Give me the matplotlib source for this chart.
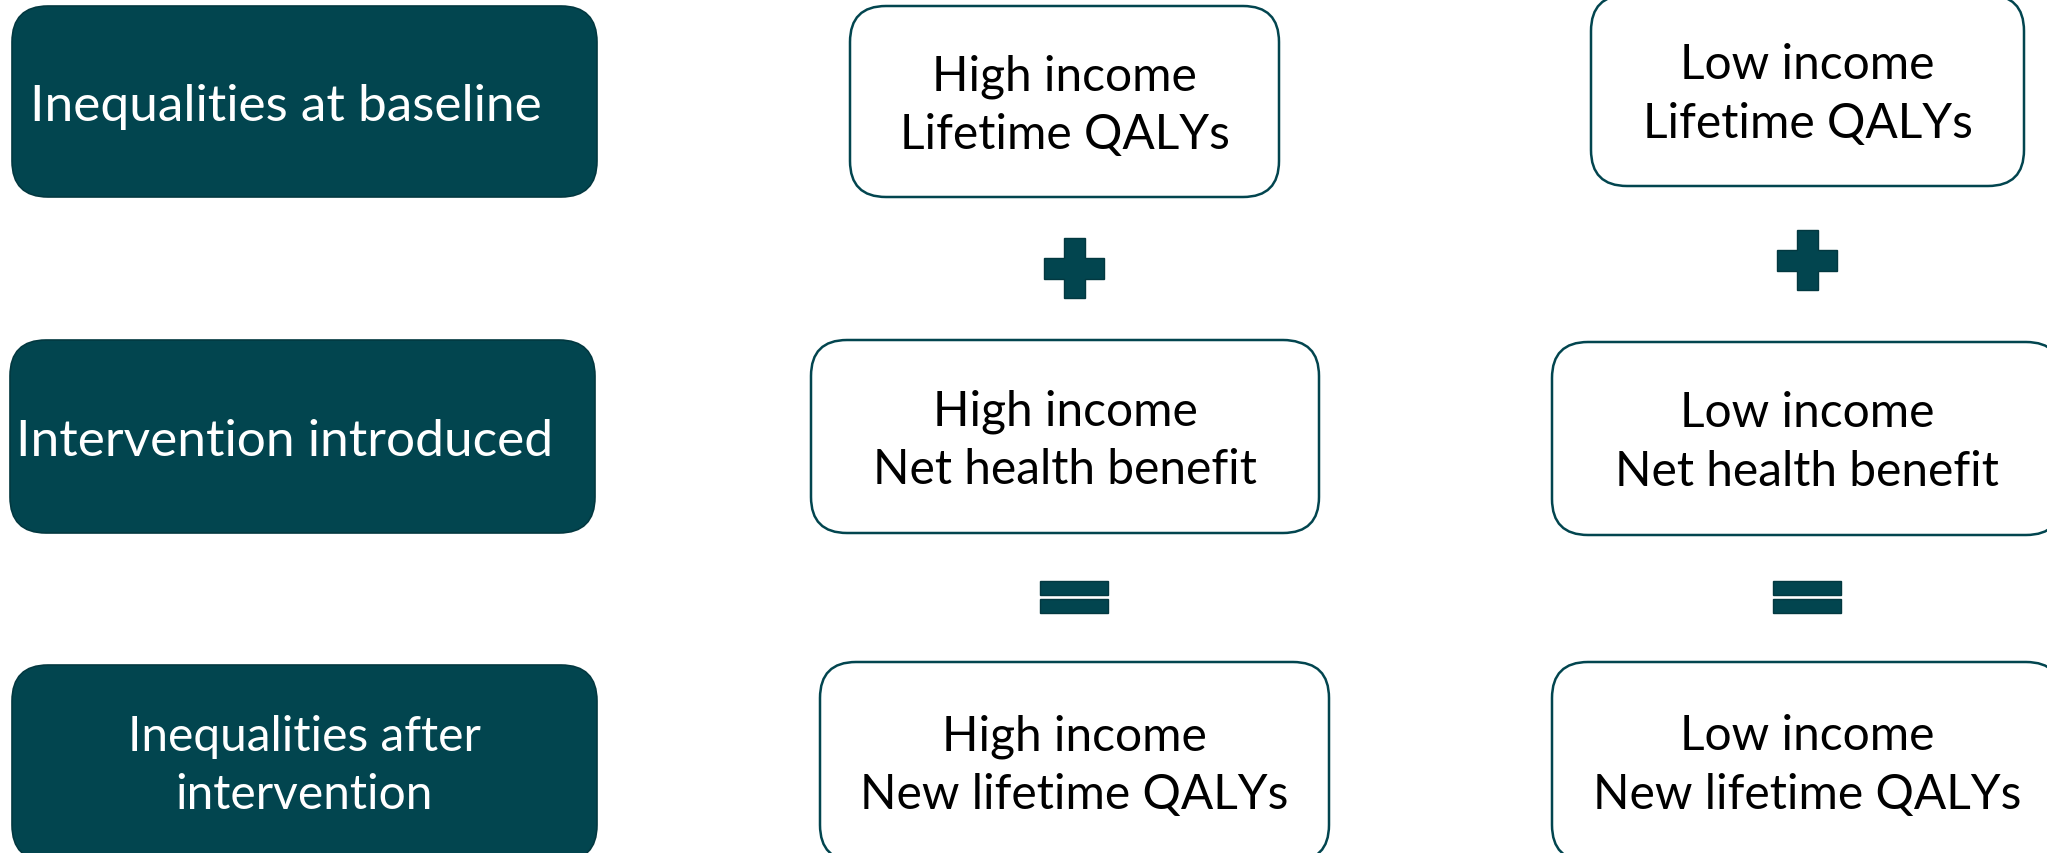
import matplotlib.pyplot as plt
from matplotlib.patches import FancyBboxPatch, Polygon, Rectangle

# labels
stage_labels = ['Inequalities at baseline', 'Intervention introduced',
                'Inequalities after\nintervention']
groups = ['High income', 'Low income']
row_terms = ['Lifetime QALYs', 'Net health benefit', 'New lifetime QALYs']
operators = ['+', '=']

teal = '#02454f'
edge_dark = '#023840'

W, H = 2047, 854
fig = plt.figure(figsize=(W / 100, H / 100), dpi=100)
ax = fig.add_axes([0, 0, 1, 1])
ax.set_xlim(0, W)
ax.set_ylim(H, 0)
ax.axis('off')

font = ['Lato', 'DejaVu Sans']
fs = 34.5
ls = 1.4

# box layout in pixels: (x0, x1, y0, y1)
stage_boxes = [(12, 597, 7, 198), (10, 595, 341, 534), (12, 597, 666, 862)]
stage_text_x = [286, 285, 304]
stage_text_dy = [5, 5, 2]
stage_fs = [37, 37, 34.5]
group_boxes = [
    [(850, 1279, 7, 198), (811, 1319, 341, 534), (820, 1329, 663, 862)],
    [(1591, 2024, -4, 187), (1552, 2062, 343, 536), (1552, 2062, 663, 862)],
]
op_centers = [
    [(1074, 269), (1074, 598)],
    [(1807, 261), (1807, 598)],
]


def rbox(x0, x1, y0, y1, fc, ec, lw):
    p = FancyBboxPatch((x0, y0), x1 - x0, y1 - y0,
                       boxstyle='round,pad=0,rounding_size=36',
                       fc=fc, ec=ec, lw=lw)
    ax.add_patch(p)


for i, lab in enumerate(stage_labels):
    x0, x1, y0, y1 = stage_boxes[i]
    rbox(x0, x1, y0, y1, teal, edge_dark, 1.2)
    ax.text(stage_text_x[i], (y0 + y1) / 2 + stage_text_dy[i], lab,
            color='white', fontsize=stage_fs[i], family=font,
            ha='center', va='center', linespacing=ls)

for g, grp in enumerate(groups):
    for r, term in enumerate(row_terms):
        x0, x1, y0, y1 = group_boxes[g][r]
        rbox(x0, x1, y0, y1, 'white', teal, 1.8)
        ax.text((x0 + x1) / 2, (y0 + y1) / 2 + 3, grp + '\n' + term,
                color='black', fontsize=fs, family=font,
                ha='center', va='center', linespacing=ls)

    # plus sign
    cx, cy = op_centers[g][0]
    s, t = 30, 10.5
    pts = [(cx - t, cy - s), (cx + t, cy - s), (cx + t, cy - t), (cx + s, cy - t),
           (cx + s, cy + t), (cx + t, cy + t), (cx + t, cy + s), (cx - t, cy + s),
           (cx - t, cy + t), (cx - s, cy + t), (cx - s, cy - t), (cx - t, cy - t)]
    ax.add_patch(Polygon(pts, closed=True, fc=teal, ec=edge_dark, lw=1))

    # equals sign
    cx, cy = op_centers[g][1]
    for dy in (-16, 2):
        ax.add_patch(Rectangle((cx - 34, cy + dy), 68, 14,
                               fc=teal, ec=edge_dark, lw=1))

fig.savefig('out.png', dpi=100, facecolor='white')
